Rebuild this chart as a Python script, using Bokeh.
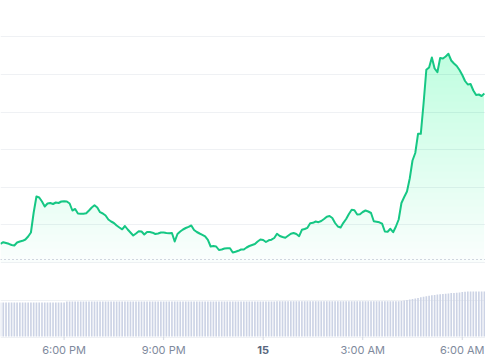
import numpy as np
import pandas as pd
from bokeh.plotting import figure
from bokeh.models import Range1d, FixedTicker, Span, ColumnDataSource
from bokeh.core.properties import value
from bokeh.embed import file_html
from bokeh.resources import INLINE

# ---------------- data ----------------
START = "2024-03-14 16:05"          # first 5-minute sample
X_END = "2024-03-15 06:42"          # right edge of the view

PRICE = [
    1.0187, 1.0203, 1.0195, 1.0187, 1.0175, 1.0170, 1.0200, 1.0210, 1.0217, 1.0230,
    1.0260, 1.0300, 1.0500, 1.0660, 1.0650, 1.0610, 1.0560, 1.0590, 1.0595, 1.0585,
    1.0600, 1.0595, 1.0610, 1.0612, 1.0610, 1.0590, 1.0520, 1.0535, 1.0490, 1.0487,
    1.0488, 1.0492, 1.0520, 1.0550, 1.0572, 1.0550, 1.0503, 1.0490, 1.0470, 1.0430,
    1.0410, 1.0395, 1.0370, 1.0350, 1.0332, 1.0365, 1.0330, 1.0300, 1.0270, 1.0290,
    1.0313, 1.0310, 1.0280, 1.0305, 1.0305, 1.0298, 1.0285, 1.0290, 1.0300, 1.0300,
    1.0295, 1.0293, 1.0295, 1.0210, 1.0285, 1.0310, 1.0330, 1.0345, 1.0357, 1.0370,
    1.0325, 1.0305, 1.0290, 1.0277, 1.0262, 1.0227, 1.0160, 1.0165, 1.0160, 1.0125,
    1.0130, 1.0140, 1.0143, 1.0143, 1.0100, 1.0107, 1.0117, 1.0130, 1.0130, 1.0150,
    1.0165, 1.0175, 1.0185, 1.0210, 1.0230, 1.0225, 1.0205, 1.0222, 1.0228, 1.0245,
    1.0287, 1.0265, 1.0255, 1.0247, 1.0267, 1.0287, 1.0295, 1.0285, 1.0263, 1.0327,
    1.0335, 1.0347, 1.0393, 1.0397, 1.0410, 1.0403, 1.0415, 1.0435, 1.0458, 1.0465,
    1.0445, 1.0395, 1.0360, 1.0350, 1.0397, 1.0435, 1.0485, 1.0527, 1.0522, 1.0480,
    1.0483, 1.0505, 1.0520, 1.0510, 1.0495, 1.0413, 1.0408, 1.0402, 1.0388, 1.0310,
    1.0307, 1.0337, 1.0303, 1.0360, 1.0430, 1.0595, 1.0655, 1.0710, 1.0840, 1.1020,
    1.1095, 1.1287, 1.1287, 1.1590, 1.1927, 1.1950, 1.2050, 1.1940, 1.1903, 1.2045,
    1.2040, 1.2060, 1.2087, 1.2020, 1.1990, 1.1965, 1.1925, 1.1875, 1.1815, 1.1780,
    1.1785, 1.1720, 1.1675, 1.1680, 1.1665, 1.1690,
]

VOLUME = [
    34.0, 34.0, 34.0, 34.0, 34.0, 34.0, 34.0, 34.0, 34.0, 34.0,
    34.0, 34.0, 34.0, 34.0, 34.0, 34.0, 34.0, 34.0, 34.0, 34.0,
    34.0, 34.0, 34.0, 34.0, 35.0, 35.0, 35.0, 35.0, 35.0, 35.0,
    35.0, 35.0, 35.0, 35.0, 35.0, 35.0, 35.0, 35.0, 35.0, 35.0,
    35.0, 35.0, 35.0, 35.0, 35.0, 35.0, 35.0, 35.0, 35.0, 35.0,
    35.0, 35.0, 35.0, 35.0, 35.0, 35.0, 35.0, 35.0, 35.0, 35.0,
    35.0, 35.0, 35.0, 35.0, 35.0, 35.0, 35.0, 35.0, 35.0, 35.0,
    35.0, 35.0, 35.0, 35.0, 35.0, 35.0, 35.0, 35.0, 35.0, 35.0,
    35.0, 35.0, 35.0, 35.0, 35.0, 35.0, 35.0, 35.0, 35.0, 35.0,
    35.0, 35.0, 35.0, 35.0, 35.0, 35.0, 35.0, 35.0, 35.0, 35.0,
    35.3, 35.3, 35.3, 35.3, 35.3, 35.3, 35.3, 35.3, 35.3, 35.3,
    35.3, 35.3, 35.3, 35.3, 35.3, 35.3, 35.3, 35.3, 35.3, 35.3,
    35.3, 35.3, 35.3, 35.3, 35.3, 35.3, 35.3, 35.3, 35.3, 35.3,
    35.3, 35.3, 35.3, 35.3, 35.3, 35.3, 35.3, 35.3, 35.3, 35.3,
    35.3, 35.3, 35.3, 35.3, 35.3, 35.6, 36.0, 36.5, 37.0, 37.5,
    38.0, 38.5, 39.2, 39.8, 40.3, 40.8, 41.2, 41.6, 42.0, 42.3,
    42.6, 42.8, 43.1, 43.4, 43.6, 43.8, 44.1, 44.4, 44.7, 45.0,
    45.0, 45.0, 45.0, 45.0, 45.0, 45.0,
]

TICK_TIMES = ["2024-03-14 18:00", "2024-03-14 21:00", "2024-03-15 00:00",
              "2024-03-15 03:00", "2024-03-15 06:00"]
TICK_LABELS = ["6:00 PM", "9:00 PM", "15", "3:00 AM", "6:00 AM"]
TICK_STYLES = ["normal", "normal", "bold", "normal", "normal"]

REF_PRICE = 1.003
GRID_PRICES = [0.9248, 0.9624, 1.0, 1.0376, 1.0752, 1.1128, 1.1504, 1.188, 1.2256]
AREA_BASE = 1.0

# ---------------- figure ----------------
times = pd.date_range(START, periods=len(PRICE), freq="5min")
price = np.array(PRICE)
tick_dt = pd.to_datetime(TICK_TIMES)

p = figure(width=485, height=360, output_backend="svg", toolbar_location=None,
           x_axis_type="datetime", x_axis_location=None, y_axis_location=None,
           x_range=Range1d(pd.Timestamp(START), pd.Timestamp(X_END)),
           y_range=Range1d(0.902, 1.262), min_border=0, outline_line_color=None,
           background_fill_color="white", border_fill_color="white")
p.extra_y_ranges = {"vol": Range1d(-24, 336), "labels": Range1d(0, 360)}

p.xgrid.visible = False
p.ygrid.ticker = FixedTicker(ticks=GRID_PRICES)
p.ygrid.grid_line_color = "#eff1f4"
p.ygrid.grid_line_width = 1

# gradient-like area fill: stacked translucent layers
GREEN = "#16c784"
p.varea(x=times, y1=AREA_BASE, y2=price, fill_color=GREEN, fill_alpha=0.02)
for lvl in np.linspace(AREA_BASE + 0.007, 1.21, 30):
    p.varea(x=times, y1=lvl, y2=np.maximum(price, lvl), fill_color=GREEN, fill_alpha=0.0075)

# reference (dotted) line
p.add_layout(Span(location=REF_PRICE, dimension="width", line_color="#a7afc0",
                  line_width=1, line_dash="1 3"))

# price line
p.line(x=times, y=price, line_color=GREEN, line_width=2, line_join="round")

# volume bars
p.vbar(x=times, top=VOLUME, bottom=0, width=5 * 60 * 1000 * 0.6, y_range_name="vol",
       fill_color="#ccd3e5", line_color=None)

# x ticks and labels
p.segment(x0=tick_dt, y0=24, x1=tick_dt, y1=20.5, y_range_name="labels",
          line_color="#d3d8e2", line_width=1)
src = ColumnDataSource(dict(x=tick_dt, y=[11] * len(TICK_LABELS), text=TICK_LABELS,
                            style=TICK_STYLES,
                            color=["#808a9d", "#808a9d", "#58667e", "#808a9d", "#808a9d"]))
p.text(x="x", y="y", text="text", source=src, y_range_name="labels",
       text_font=value("Inter"), text_font_size="11px", text_font_style="style",
       text_color="color", text_align="center", text_baseline="middle")

open("out.html", "w").write(file_html(p, INLINE))
